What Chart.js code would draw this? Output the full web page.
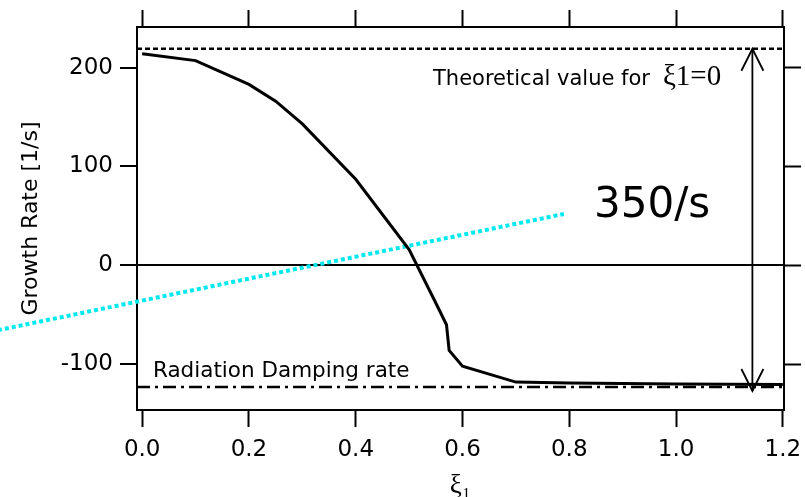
<!DOCTYPE html>
<html><head><meta charset="utf-8">
<script src="https://cdn.jsdelivr.net/npm/chart.js@4.4.0/dist/chart.umd.min.js"></script>
<style>html,body{margin:0;padding:0;background:#fff}</style>
</head><body>
<canvas id="c" width="805" height="497"></canvas>
<script>
// ---- data ----
const XI      = [0, 0.1, 0.2, 0.25, 0.3, 0.4, 0.5, 0.55, 0.57, 0.575, 0.6, 0.7, 0.8, 1.0, 1.2];
const GROWTH  = [214, 207, 183, 166, 143, 87, 16, -38, -60, -86, -102, -118, -119, -120, -120.5];
const X_TICKS = [0, 0.2, 0.4, 0.6, 0.8, 1.0, 1.2];
const Y_TICKS = [-100, 0, 100, 200];
const X_RANGE = [-0.0097, 1.2022];
const Y_RANGE = [-146.2, 241.0];
const THEORETICAL = 219;
const RAD_DAMPING = -123;
const ARROW_X = 1.143;
const ARROW_Y = [219, -127];
const CYAN_X = [-0.27, 0.79];
const CYAN_Y = [-65.5, 52];
const THEORY_LABEL = ['Theoretical value for', 'ξ1=0'];
const RAD_LABEL = 'Radiation Damping rate';
const BIG_LABEL = '350/s';
const X_TITLE = 'ξ₁';
const Y_TITLE = 'Growth Rate [1/s]';

// label anchors (data coordinates)
const THEORY_AT = [0.5448, 182.1];
const RAD_AT = [0.0202, -112.5];
const BIG_AT = [0.8464, 48.8];

const SANS = '"DejaVu Sans", sans-serif';
const SERIF = '"Liberation Serif", "DejaVu Serif", serif';

const pts = (xs, ys) => xs.map((x, i) => ({x, y: ys[i]}));

const annot = {
  id: 'annot',
  afterDatasetsDraw(chart) {
    const ctx = chart.ctx, xs = chart.scales.x, ys = chart.scales.y;
    ctx.save();
    ctx.fillStyle = '#000';
    ctx.textBaseline = 'alphabetic';
    ctx.textAlign = 'left';
    let px = xs.getPixelForValue(THEORY_AT[0]), py = ys.getPixelForValue(THEORY_AT[1]);
    ctx.font = '21px ' + SANS;
    ctx.fillText(THEORY_LABEL[0], px, py);
    const w = ctx.measureText(THEORY_LABEL[0]).width;
    ctx.font = '29px ' + SERIF;
    ctx.fillText(THEORY_LABEL[1], px + w + 13, py);

    ctx.font = '21.5px ' + SANS;
    ctx.fillText(RAD_LABEL, xs.getPixelForValue(RAD_AT[0]), ys.getPixelForValue(RAD_AT[1]));

    ctx.font = '42px ' + SANS;
    ctx.fillText(BIG_LABEL, xs.getPixelForValue(BIG_AT[0]), ys.getPixelForValue(BIG_AT[1]));

    // arrow heads on the double arrow
    const meta = chart.getDatasetMeta(4);
    const p0 = meta.data[0], p1 = meta.data[1];
    ctx.strokeStyle = '#000';
    ctx.lineWidth = 1.8;
    ctx.beginPath();
    ctx.moveTo(p0.x - 11, p0.y + 22); ctx.lineTo(p0.x, p0.y); ctx.lineTo(p0.x + 11, p0.y + 22);
    ctx.moveTo(p1.x - 11, p1.y - 22); ctx.lineTo(p1.x, p1.y); ctx.lineTo(p1.x + 11, p1.y - 22);
    ctx.stroke();
    ctx.restore();
  }
};

const noPad = s => { s.paddingLeft = 0; s.paddingRight = 0; s.paddingTop = 0; s.paddingBottom = 0; };
const gridX = {drawOnChartArea: false, drawTicks: true, tickLength: 17, tickWidth: 2, tickColor: '#000'};
const borderK = {display: true, color: '#000', width: 2};

new Chart(document.getElementById('c'), {
  type: 'line',
  data: {
    datasets: [
      {data: pts(XI, GROWTH), borderColor: '#000', borderWidth: 3, pointRadius: 0, tension: 0},
      {data: pts(X_RANGE, [THEORETICAL, THEORETICAL]), borderColor: '#000', borderWidth: 2.5, borderDash: [5, 3], pointRadius: 0},
      {data: pts(X_RANGE, [RAD_DAMPING, RAD_DAMPING]), borderColor: '#000', borderWidth: 2.5, borderDash: [13, 5, 3, 5], pointRadius: 0},
      {data: pts(CYAN_X, CYAN_Y), borderColor: '#00e8f0', borderWidth: 4, borderDash: [4, 3], pointRadius: 0, clip: false},
      {data: pts([ARROW_X, ARROW_X], ARROW_Y), borderColor: '#000', borderWidth: 1.8, pointRadius: 0, clip: false}
    ]
  },
  options: {
    responsive: false,
    animation: false,
    devicePixelRatio: 1,
    layout: {padding: 0},
    plugins: {legend: {display: false}, tooltip: {enabled: false}},
    scales: {
      x: {
        type: 'linear', position: 'bottom', min: X_RANGE[0], max: X_RANGE[1],
        afterBuildTicks: s => { s.ticks = X_TICKS.map(v => ({value: v})); },
        afterFit: s => { s.height = 87; noPad(s); },
        ticks: {color: '#000', font: {family: SANS, size: 23}, padding: 9, maxRotation: 0, autoSkip: false,
                callback: v => Number(v).toFixed(1)},
        grid: gridX, border: borderK,
        title: {display: true, text: X_TITLE, color: '#000', font: {family: SERIF, size: 27, lineHeight: 0.8}, padding: {top: 0, bottom: 0}}
      },
      x2: {
        type: 'linear', axis: 'x', position: 'top', min: X_RANGE[0], max: X_RANGE[1],
        afterBuildTicks: s => { s.ticks = X_TICKS.map(v => ({value: v})); },
        afterFit: s => { s.height = 27; noPad(s); },
        ticks: {display: false},
        grid: gridX, border: borderK
      },
      y: {
        type: 'linear', position: 'left', min: Y_RANGE[0], max: Y_RANGE[1],
        afterBuildTicks: s => { s.ticks = Y_TICKS.map(v => ({value: v})); },
        afterFit: s => { s.width = 137; noPad(s); },
        ticks: {color: '#000', font: {family: SANS, size: 23}, padding: 7, autoSkip: false, callback: v => String(v)},
        grid: {drawOnChartArea: true, drawTicks: true, tickLength: 17, tickWidth: 2, tickColor: '#000',
               lineWidth: 2, color: c => (c.tick && c.tick.value === 0) ? '#000' : 'rgba(0,0,0,0)'},
        border: borderK,
        title: {display: true, text: Y_TITLE, color: '#000', font: {family: SANS, size: 22}, padding: {top: 18, bottom: 0}}
      },
      y2: {
        type: 'linear', axis: 'y', position: 'right', min: Y_RANGE[0], max: Y_RANGE[1],
        afterBuildTicks: s => { s.ticks = Y_TICKS.map(v => ({value: v})); },
        afterFit: s => { s.width = 21; noPad(s); },
        ticks: {display: false},
        grid: gridX, border: borderK
      }
    }
  },
  plugins: [annot]
});
</script>
</body></html>
